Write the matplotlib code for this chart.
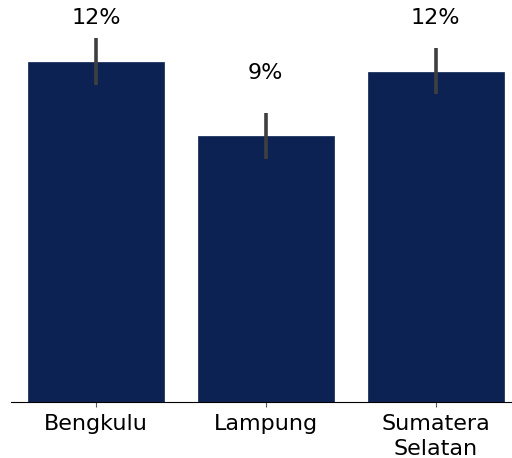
import matplotlib.pyplot as plt
import numpy as np

provinces = ["Bengkulu", "Lampung", "Sumatera\nSelatan"]
share = [0.120, 0.094, 0.1165]
ci_low = [0.112, 0.086, 0.1087]
ci_high = [0.1285, 0.102, 0.125]
label_y = [0.1355, 0.1161, 0.1355]

fig = plt.figure(figsize=(5.12, 4.58), dpi=100)
ax = fig.add_axes([11 / 512, 56 / 458, 501 / 512, 402 / 458])

x = np.arange(len(provinces))
ax.bar(x, share, width=0.8, color="#0c2252", edgecolor="#0c2252", linewidth=0.5)
for xi, lo, hi in zip(x, ci_low, ci_high):
    ax.plot([xi, xi], [lo, hi], color="#3f3f3f", linewidth=2.6, solid_capstyle="butt")

for xi, v, ly in zip(x, share, label_y):
    ax.text(xi, ly, f"{v * 100:.0f}%", ha="center", va="center", fontsize=16)

ax.set_xlim(-0.5, 2.45)
ax.set_ylim(0, 0.142)
ax.set_xticks(x)
ax.set_xticklabels(provinces, fontsize=16, linespacing=1.35)
ax.set_yticks([])
for side in ["left", "right", "top"]:
    ax.spines[side].set_visible(False)
ax.tick_params(axis="x", length=3.5, pad=5, color="#555555")

fig.savefig("out.png", dpi=100)
